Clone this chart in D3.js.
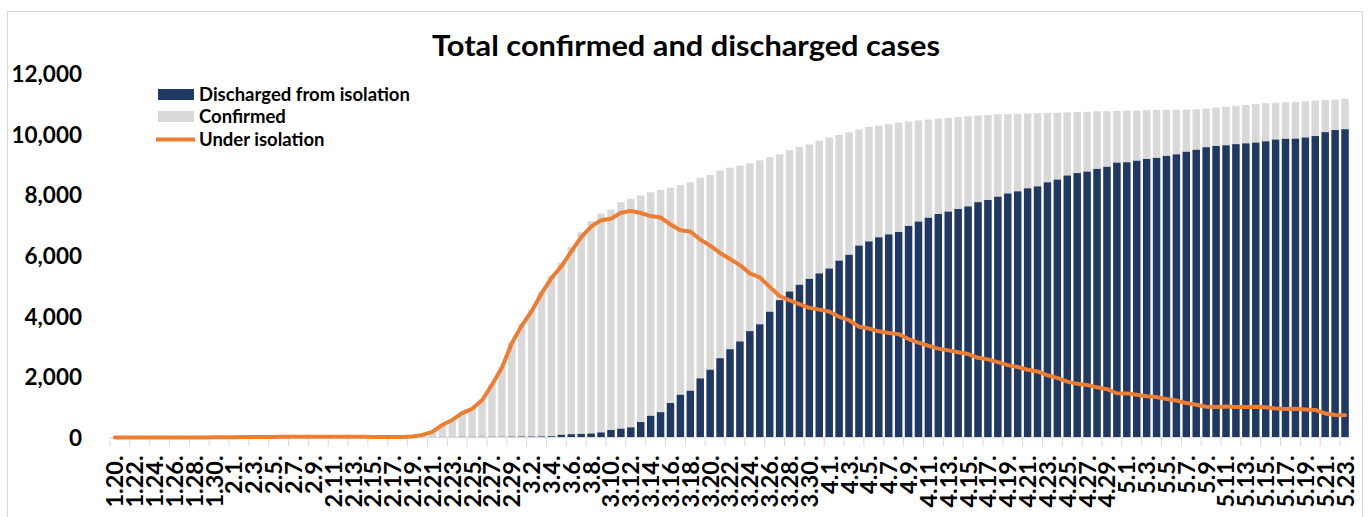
<!DOCTYPE html>
<html>
<head>
<meta charset="utf-8">
<script src="https://cdn.jsdelivr.net/npm/d3@7"></script>
<style>
    html, body { margin: 0; padding: 0; background: #fff; }
    #chart-container { width: 1369px; height: 517px; overflow: hidden; }
    text { font-family: Lato, 'Open Sans', sans-serif; font-weight: 700; fill: #000; }
</style>
</head>
<body>
<div id="chart-container"></div>
<script>
// daily dates, 1.20 through 5.23
const dates = [
    '1.20', '1.21', '1.22', '1.23', '1.24', '1.25', '1.26', '1.27', '1.28', '1.29', '1.30', '1.31',
    '2.1', '2.2', '2.3', '2.4', '2.5', '2.6', '2.7', '2.8', '2.9', '2.10', '2.11', '2.12', '2.13', '2.14', '2.15',
    '2.16', '2.17', '2.18', '2.19', '2.20', '2.21', '2.22', '2.23', '2.24', '2.25', '2.26', '2.27', '2.28', '2.29',
    '3.1', '3.2', '3.3', '3.4', '3.5', '3.6', '3.7', '3.8', '3.9', '3.10', '3.11', '3.12', '3.13', '3.14', '3.15',
    '3.16', '3.17', '3.18', '3.19', '3.20', '3.21', '3.22', '3.23', '3.24', '3.25', '3.26', '3.27', '3.28', '3.29',
    '3.30', '3.31',
    '4.1', '4.2', '4.3', '4.4', '4.5', '4.6', '4.7', '4.8', '4.9', '4.10', '4.11', '4.12', '4.13', '4.14', '4.15',
    '4.16', '4.17', '4.18', '4.19', '4.20', '4.21', '4.22', '4.23', '4.24', '4.25', '4.26', '4.27', '4.28', '4.29',
    '4.30',
    '5.1', '5.2', '5.3', '5.4', '5.5', '5.6', '5.7', '5.8', '5.9', '5.10', '5.11', '5.12', '5.13', '5.14', '5.15',
    '5.16', '5.17', '5.18', '5.19', '5.20', '5.21', '5.22', '5.23'
];

const confirmed = [
    1, 1, 1, 1, 2, 2, 3, 4, 4, 4, 6, 11,
    12, 15, 15, 16, 19, 23, 24, 24, 27, 27, 28, 28, 28, 28, 28,
    29, 30, 31, 51, 104, 204, 433, 602, 833, 977, 1261, 1766, 2337, 3150,
    3736, 4212, 4812, 5328, 5766, 6284, 6767, 7134, 7382, 7513, 7755, 7869, 7979, 8086, 8162,
    8236, 8320, 8413, 8565, 8652, 8799, 8897, 8961, 9037, 9137, 9241, 9332, 9478, 9583,
    9661, 9786,
    9887, 9976, 10062, 10156, 10237, 10284, 10331, 10384, 10423, 10450, 10480, 10512, 10537, 10564, 10591,
    10613, 10635, 10653, 10661, 10674, 10683, 10694, 10702, 10708, 10718, 10728, 10738, 10752, 10761,
    10765,
    10774, 10780, 10793, 10801, 10804, 10806, 10810, 10822, 10840, 10874, 10909, 10936, 10962, 10991, 11018,
    11037, 11050, 11065, 11078, 11110, 11122, 11142, 11165
];

const discharged = [
    0, 0, 0, 0, 0, 0, 0, 0, 0, 0, 0, 0,
    0, 0, 0, 0, 0, 1, 1, 1, 3, 3, 4, 7, 7, 7, 9,
    9, 10, 12, 16, 16, 17, 18, 18, 22, 22, 22, 22, 22, 27,
    30, 30, 34, 41, 88, 108, 118, 130, 166, 247, 288, 333, 510, 714, 834,
    1137, 1407, 1540, 1947, 2233, 2612, 2909, 3166, 3507, 3730, 4144, 4528, 4811, 5033,
    5228, 5408,
    5567, 5828, 6021, 6325, 6463, 6598, 6694, 6776, 6973, 7117, 7243, 7368, 7447, 7534, 7616,
    7757, 7829, 7937, 8042, 8114, 8213, 8277, 8411, 8501, 8635, 8717, 8764, 8854, 8922,
    9059,
    9072, 9123, 9183, 9217, 9283, 9332, 9419, 9484, 9568, 9610, 9632, 9670, 9695, 9720, 9762,
    9821, 9847, 9851, 9888, 9938, 10066, 10135, 10162
];

const underIsolation = [
    1, 1, 1, 1, 2, 2, 3, 4, 4, 4, 6, 11,
    12, 15, 15, 16, 19, 22, 23, 23, 24, 24, 24, 21, 21, 21, 19,
    20, 20, 19, 35, 87, 185, 413, 578, 803, 945, 1227, 1731, 2299, 3106,
    3688, 4160, 4750, 5255, 5643, 6134, 6605, 6954, 7165, 7212, 7407, 7470, 7402, 7300, 7253,
    7024, 6832, 6789, 6527, 6325, 6085, 5884, 5684, 5410, 5281, 4966, 4665, 4523, 4398,
    4275, 4216,
    4155, 3979, 3867, 3654, 3591, 3500, 3445, 3408, 3246, 3125, 3026, 2930, 2873, 2808, 2750,
    2627, 2576, 2484, 2385, 2324, 2233, 2179, 2051, 1967, 1843, 1769, 1731, 1654, 1593,
    1459,
    1454, 1407, 1360, 1332, 1267, 1219, 1135, 1082, 1016, 1008, 1021, 1008, 1008, 1011, 996,
    954, 941, 951, 927, 909, 792, 743, 737
];

const yTicks = [0, 2000, 4000, 6000, 8000, 10000, 12000];

const seriesNames = ['Discharged from isolation', 'Confirmed', 'Under isolation'];
const seriesColors = ['#203864', '#d9d9d9', '#ed7d31'];

document.addEventListener('DOMContentLoaded', () => {
    const width = 1369;
    const height = 517;
    const left = 110, right = 1350, top = 73.5, bottom = 437.5;

    const svg = d3.select('#chart-container')
        .append('svg')
        .attr('width', width)
        .attr('height', height)
        .attr('viewBox', `0 0 ${width} ${height}`);

    // outer frame
    svg.append('rect')
        .attr('x', 7.5)
        .attr('y', 11.5)
        .attr('width', 1355)
        .attr('height', 530)
        .attr('fill', '#fff')
        .attr('stroke', '#d9d9d9');

    const x = d3.scaleBand()
        .domain(dates)
        .range([left, right])
        .paddingInner(0.25)
        .paddingOuter(0.125);

    const y = d3.scaleLinear()
        .domain([0, 12000])
        .range([bottom, top]);

    // title
    svg.append('text')
        .attr('x', 686)
        .attr('y', 56)
        .attr('text-anchor', 'middle')
        .attr('textLength', 508)
        .attr('lengthAdjust', 'spacingAndGlyphs')
        .style('font-size', '29px')
        .text('Total confirmed and discharged cases');

    // y axis labels only, no line
    const yAxis = svg.append('g')
        .attr('transform', 'translate(82,0)')
        .call(d3.axisLeft(y).tickValues(yTicks).tickSize(0).tickPadding(0).tickFormat(d3.format(',')));
    yAxis.select('.domain').remove();
    yAxis.selectAll('text')
        .attr('dy', '0.36em')
        .style('font-size', '22.5px')
        .style('font-family', 'Lato, sans-serif')
        .style('font-weight', 700);

    // bars: confirmed behind, discharged in front
    svg.append('g')
        .selectAll('rect')
        .data(dates)
        .enter().append('rect')
        .attr('x', d => x(d))
        .attr('width', x.bandwidth())
        .attr('y', (d, i) => y(confirmed[i]))
        .attr('height', (d, i) => bottom - y(confirmed[i]))
        .attr('fill', seriesColors[1]);

    svg.append('g')
        .selectAll('rect')
        .data(dates)
        .enter().append('rect')
        .attr('x', d => x(d))
        .attr('width', x.bandwidth())
        .attr('y', (d, i) => y(discharged[i]))
        .attr('height', (d, i) => bottom - y(discharged[i]))
        .attr('fill', seriesColors[0]);

    // category axis: baseline + ticks at every second band boundary
    svg.append('line')
        .attr('x1', left)
        .attr('x2', right)
        .attr('y1', bottom)
        .attr('y2', bottom)
        .attr('stroke', '#d9d9d9');

    const tickBounds = d3.range(0, dates.length + 1, 2).map(i => left + i * x.step());
    svg.append('g')
        .selectAll('line')
        .data(tickBounds)
        .enter().append('line')
        .attr('x1', d => d)
        .attr('x2', d => d)
        .attr('y1', bottom)
        .attr('y2', bottom + 9)
        .attr('stroke', '#d9d9d9');

    const labelDates = dates.filter((d, i) => i % 2 === 0);
    const xAxis = svg.append('g')
        .attr('transform', `translate(0,${bottom})`)
        .call(d3.axisBottom(x).tickValues(labelDates).tickSize(0).tickFormat(d => d + '.'));
    xAxis.select('.domain').remove();
    xAxis.selectAll('text')
        .attr('transform', 'rotate(-90)')
        .attr('text-anchor', 'end')
        .attr('x', -18)
        .attr('y', 0)
        .attr('dy', '0.36em')
        .style('font-size', '23.5px')
        .style('font-family', 'Lato, sans-serif')
        .style('font-weight', 700);

    // under isolation line
    const line = d3.line()
        .x((d, i) => x(dates[i]) + x.bandwidth() / 2)
        .y(d => y(d));

    svg.append('path')
        .datum(underIsolation)
        .attr('d', line)
        .attr('fill', 'none')
        .attr('stroke', seriesColors[2])
        .attr('stroke-width', 4)
        .attr('stroke-linejoin', 'round')
        .attr('stroke-linecap', 'round');

    // legend
    const legend = svg.append('g');
    const rowY = [94.5, 116.5, 139.5];

    legend.append('rect')
        .attr('x', 158).attr('y', rowY[0] - 5.5)
        .attr('width', 36).attr('height', 11)
        .attr('fill', seriesColors[0]);
    legend.append('rect')
        .attr('x', 158).attr('y', rowY[1] - 5.5)
        .attr('width', 36).attr('height', 11)
        .attr('fill', seriesColors[1]);
    legend.append('line')
        .attr('x1', 156).attr('x2', 195)
        .attr('y1', rowY[2]).attr('y2', rowY[2])
        .attr('stroke', seriesColors[2])
        .attr('stroke-width', 4);

    legend.selectAll('text')
        .data(seriesNames)
        .enter().append('text')
        .attr('x', 199)
        .attr('y', (d, i) => rowY[i])
        .attr('dy', '0.36em')
        .style('font-size', '18.5px')
        .text(d => d);
});
</script>
</body>
</html>
